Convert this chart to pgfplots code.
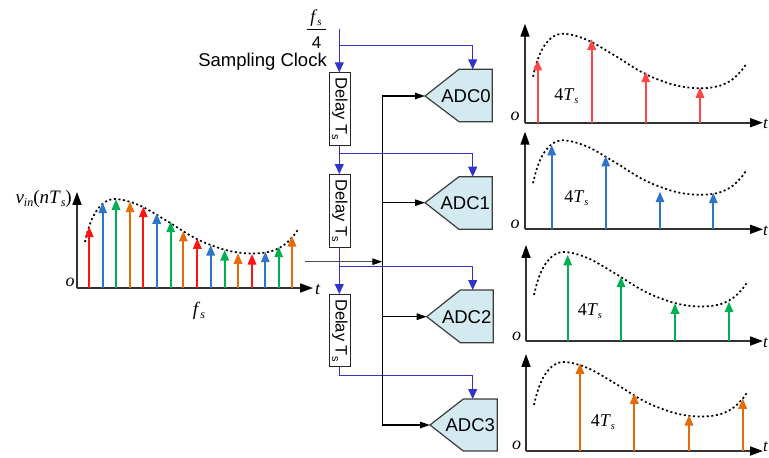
\documentclass[border=0pt]{standalone}
\usepackage{pgfplots}
\pgfplotsset{compat=1.18}
\usepackage{pgfplotstable}
\usepackage{fontspec}
\setmainfont{Liberation Sans}
\newfontfamily\tnr{Liberation Serif}
\usetikzlibrary{arrows.meta}
\definecolor{sred}{RGB}{255,20,20}
\definecolor{sredl}{RGB}{255,70,70}
\definecolor{sblue}{RGB}{46,117,200}
\definecolor{sgreen}{RGB}{0,176,80}
\definecolor{sorange}{RGB}{228,108,10}
\definecolor{clk}{RGB}{51,51,204}
\definecolor{adcfill}{RGB}{210,234,240}
\definecolor{adcline}{RGB}{60,60,60}

\pgfplotstableread{
x h
8 46
11 58
15 69
20 78
26 84.5
32 88
38 89
46 88
55 85.5
65 81.5
75 76
85 70
95 64
105 57.5
115 51.5
125 46.5
135 42.5
145 39
155 36.5
165 35
175 34.5
185 35
195 37
203 40.5
209 44.5
214 49.5
218 54
221 58.5
}\curvetab

\pgfplotsset{
  sig/.style={x=1pt,y=1pt,xmin=0,ymin=0,axis lines=left,
    axis line style={line width=1.7pt,black!80,-{Triangle[length=13pt,width=9pt,color=black]}},
    xtick=\empty,ytick=\empty,clip=false,anchor=south west},
  stem/.style={quiver={u=0,v=\thisrow{h}},line width=1.7pt,-{Triangle[length=10.5pt,width=8.5pt]}},
  curve/.style={black,line width=1.7pt,dash pattern=on 2pt off 2.6pt,smooth}
}
\newcommand{\FourTs}{{\tnr\fontsize{18}{20}\selectfont 4\textit{T}\raisebox{-0.45ex}{\fontsize{10.5}{12}\selectfont\textit{s}}}}
\newcommand{\ol}{{\tnr\fontsize{18}{20}\selectfont\textit{o}}}

\begin{document}
\begin{tikzpicture}
\path[use as bounding box] (0pt,0pt) rectangle (769pt,-458pt);

% left signal
\begin{axis}[sig,at={(77pt,-288pt)},xmax=236,ymax=96]
\addplot[curve] table[x=x,y=h]{\curvetab};
\addplot[stem,draw=sred] table[x=x,y=y]{
x y h
12.3 0 61.3
66.3 0 81.3
120.3 0 49.7
175 0 34
};
\addplot[stem,draw=sblue] table[x=x,y=y]{
x y h
25.7 0 85.3
79.7 0 74.7
133.7 0 43
188.3 0 36.3
};
\addplot[stem,draw=sgreen] table[x=x,y=y]{
x y h
39 0 88.7
93.7 0 66.3
147.7 0 38
201.7 0 41.3
};
\addplot[stem,draw=sorange] table[x=x,y=y]{
x y h
53 0 86.3
106.3 0 57
161 0 34.7
215 0 52
};
\end{axis}

% ADC0 output
\begin{axis}[sig,at={(525pt,-122.7pt)},xmax=238,ymax=99]
\addplot[curve] table[x=x,y=h]{\curvetab};
\addplot[stem,draw=sredl] table[x=x,y=y]{
x y h
12.7 0 62.7
66.7 0 83.4
120.7 0 51
175 0 35.4
};
\end{axis}

% ADC1 output
\begin{axis}[sig,at={(525pt,-229.3pt)},xmax=238,ymax=97.6]
\addplot[curve] table[x=x,y=h]{\curvetab};
\addplot[stem,draw=sblue] table[x=x,y=y]{
x y h
26.7 0 84.3
80.7 0 73.3
135 0 37.6
188.3 0 36.6
};
\end{axis}

% ADC2 output
\begin{axis}[sig,at={(526pt,-341pt)},xmax=237,ymax=96]
\addplot[curve] table[x=x,y=h]{\curvetab};
\addplot[stem,draw=sgreen] table[x=x,y=y]{
x y h
41.7 0 86
95 0 64.3
149 0 37.7
203 0 39.3
};
\end{axis}

% ADC3 output
\begin{axis}[sig,at={(526pt,-451pt)},xmax=237,ymax=97]
\addplot[curve] table[x=x,y=h]{\curvetab};
\addplot[stem,draw=sorange] table[x=x,y=y]{
x y h
54 0 87.7
108.3 0 57.7
163 0 36
216.7 0 52.7
};
\end{axis}

\begin{scope}[x=1pt,y=-1pt]
% labels of plots
\node[anchor=east,inner sep=0] at (72,199) {\tnr\fontsize{19}{21}\selectfont\textit{v}\raisebox{-0.35ex}{\fontsize{12}{13}\selectfont\textit{in}}(\textit{nT}\raisebox{-0.35ex}{\fontsize{12}{13}\selectfont\textit{s}})};
\node at (70,282) {\ol};
\node[anchor=west,inner sep=0] at (315,290) {\tnr\fontsize{18}{20}\selectfont\textit{t}};
\node at (199,311) {\tnr\fontsize{19}{21}\selectfont\textit{f}\raisebox{-0.35ex}{\fontsize{12}{13}\selectfont\textit{s}}};
\node at (515,116) {\ol};
\node at (515,224) {\ol};
\node at (516.5,336) {\ol};
\node at (516.5,445) {\ol};
\node at (566.5,96) {\FourTs};
\node at (576.5,198) {\FourTs};
\node at (590,311) {\FourTs};
\node at (603,422) {\FourTs};
\foreach \yy in {124,231,343,447} {\node[anchor=west,inner sep=0] at (763,\yy) {\tnr\fontsize{17}{19}\selectfont\textit{t}};}

% clock
\node[inner sep=0] at (316,18) {\tnr\fontsize{18}{20}\selectfont\textit{f}\raisebox{-0.35ex}{\fontsize{11}{12}\selectfont\textit{s}}};
\draw[line width=0.8pt] (306.7,29.3)--(326,29.3);
\node[inner sep=0] at (316.7,42.7) {\fontsize{17}{19}\selectfont 4};
\node[anchor=east,inner sep=0] at (327,61.7) {\fontsize{18.5}{20}\selectfont Sampling Clock};

\tikzset{barr/.style={draw=clk,line width=1pt,-{Triangle[length=10pt,width=9pt,color=clk]}},
         karr/.style={draw=black,line width=1.2pt,-{Triangle[length=10pt,width=6.5pt,color=black]}}}
\draw[barr] (339.3,29.3)--(339.3,72.3);
\draw[barr] (339.3,45)--(472.7,45)--(472.7,69.3);
\draw[barr] (339.3,145.7)--(339.3,174);
\draw[barr] (339.3,153.3)--(472.7,153.3)--(472.7,176.7);
\draw[barr] (339.3,247.3)--(339.3,294);
\draw[barr] (339.3,266.7)--(472.7,266.7)--(472.7,290);
\draw[barr] (339.3,366.7)--(339.3,375)--(472.7,375)--(472.7,399);

% signal bus
\draw[black,line width=1.2pt] (382.3,96)--(382.3,425);
\draw[karr] (382.3,96)--(425,96);
\draw[karr] (382.3,202.7)--(425,202.7);
\draw[karr] (382.3,316.7)--(426.7,316.7);
\draw[karr] (382.3,425)--(430,425);
\draw[line width=1.3pt,draw=black!70,-{Triangle[length=10pt,width=6.5pt,color=black]}] (305,261.7)--(382.3,261.7);

% delay boxes
\foreach \ya/\yb in {72.3/145.7,174/247.3,294/366.7}{
  \draw[fill=white,draw=black!85,line width=1pt] (329,\ya) rectangle (350.7,\yb);
  \node[rotate=-90,inner sep=0] at (339.8,{(\ya+\yb)/2}) {\fontsize{16.5}{18}\selectfont Delay T\raisebox{-0.4ex}{\fontsize{11}{12}\selectfont s}};
}

% ADCs
\tikzset{adc/.style={fill=adcfill,draw=adcline,line width=1.2pt}}
\draw[adc] (425,96)--(459,69.3)--(492.3,69.3)--(492.3,121.7)--(459,121.7)--cycle;
\draw[adc] (425,202.7)--(459,176.7)--(492.3,176.7)--(492.3,229.3)--(459,229.3)--cycle;
\draw[adc] (426.7,316.7)--(460.3,290)--(493.3,290)--(493.3,342.7)--(460.3,342.7)--cycle;
\draw[adc] (430,425)--(463.3,399)--(497.3,399)--(497.3,451)--(463.3,451)--cycle;
\node[inner sep=0] at (466,96.5) {\fontsize{18.5}{20}\selectfont ADC0};
\node[inner sep=0] at (465.3,203) {\fontsize{18.5}{20}\selectfont ADC1};
\node[inner sep=0] at (466.7,317) {\fontsize{18.5}{20}\selectfont ADC2};
\node[inner sep=0] at (470.3,425.5) {\fontsize{18.5}{20}\selectfont ADC3};
\end{scope}
\end{tikzpicture}
\end{document}
